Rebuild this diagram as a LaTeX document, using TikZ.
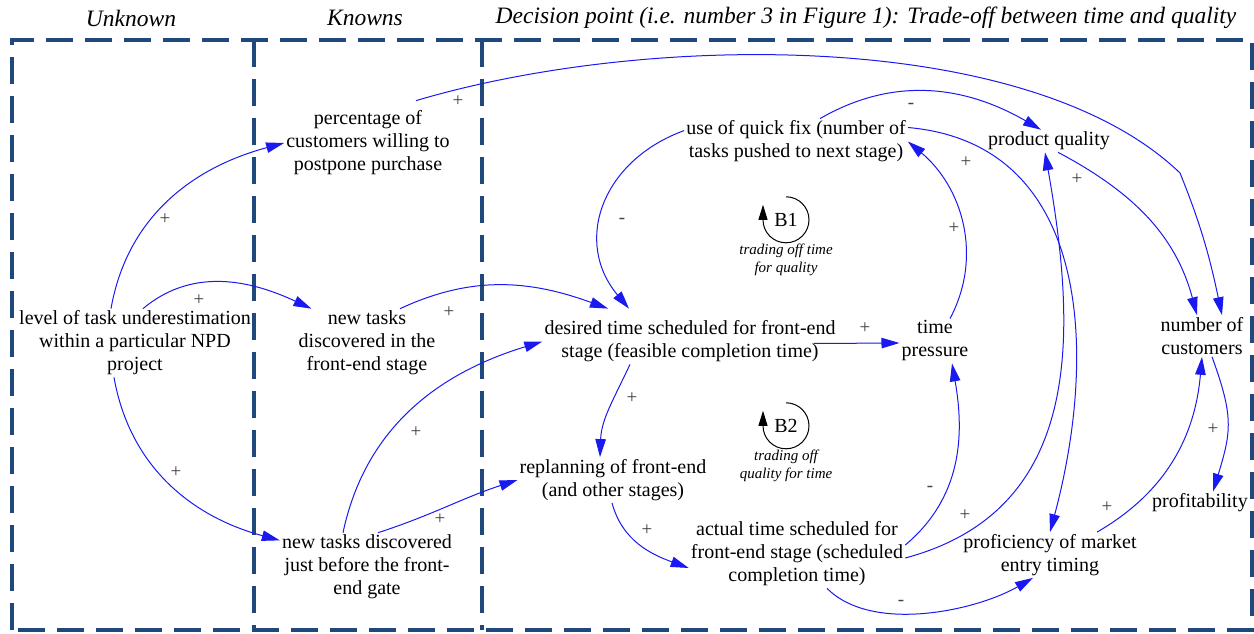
\documentclass[tikz,border=0pt]{standalone}
\usepackage{fontspec}
\setmainfont{Liberation Serif}
\usepackage{tikz}
\usetikzlibrary{arrows.meta,positioning}
\definecolor{zoneblue}{RGB}{31,73,125}
\definecolor{linkblue}{RGB}{25,25,240}
\tikzset{
  >={Triangle[length=18pt,width=10.5pt]},
  var/.style={align=center, inner sep=2pt, font=\fontsize{20}{23}\selectfont},
  sgn/.style={inner sep=0pt, text=black!75, font=\fontsize{19}{19}\selectfont},
  link/.style={->, draw=linkblue, line width=1pt},
  zone/.style={draw=zoneblue, line width=3.5pt, dash pattern=on 27pt off 12pt},
  head/.style={inner sep=0pt, font=\fontsize{23.5}{26}\selectfont\itshape},
  loopid/.style={circle, minimum size=46pt, inner sep=0pt, font=\fontsize{20}{23}\selectfont},
  looptxt/.style={align=center, inner sep=1pt, font=\fontsize{15}{17.5}\selectfont\itshape},
  looparr/.style={-{Triangle[length=15pt,width=9pt]}, line width=1pt},
}

\begin{document}
\begin{tikzpicture}[x=1pt,y=1pt]
  \useasboundingbox (0,0) rectangle (1254,633);
  \draw[zone] (12,3) rectangle (1252,593);
  \draw[zone] (254,593) -- (254,3);
  \draw[zone] (482,593) -- (482,3);

  \node[head] (hunk) at (131,615) {Unknown};
  \node[head] (hknown) at (365,615) {Knowns};
  \node[head] (hdec) at (866,615) {Decision point (i.e. number 3 in Figure 1): Trade-off between time and quality};

  \node[var] (lvl) at (135,290) {level of task underestimation\\within a particular NPD\\project};
  \node[var] (pct) at (368,490) {percentage of\\customers willing to\\postpone purchase};
  \node[var] (ntf) at (367,290) {new tasks\\discovered in the\\front-end stage};
  \node[var] (ntj) at (367,66) {new tasks discovered\\just before the front-\\end gate};
  \node[var] (des) at (690,291.5) {desired time scheduled for front-end\\stage (feasible completion time)};
  \node[var] (tp) at (935,292) {time\\pressure};
  \node[var] (qfix) at (796,491.5) {use of quick fix (number of\\tasks pushed to next stage)};
  \node[var] (pq) at (1049,492) {product quality};
  \node[var] (cust) at (1202,297) {number of\\customers};
  \node[var] (prof) at (1200,130) {profitability};
  \node[var] (repl) at (613,153) {replanning of front-end\\(and other stages)};
  \node[var] (act) at (797,79) {actual time scheduled for\\front-end stage (scheduled\\completion time)};
  \node[var] (mkt) at (1050,78) {proficiency of market\\entry timing};

  \node[loopid] (b1) at (786,413) {B1};
  \node[looptxt, below=0pt of b1] (b1txt) {trading off time\\for quality};
  \node[loopid] (b2) at (786,207) {B2};
  \node[looptxt, below=0pt of b2] (b2txt) {trading off\\quality for time};
  \draw[looparr] (b1.north) arc[start angle=90, end angle=-180, radius=23pt] -- ++(0,15);
  \draw[looparr] (b2.north) arc[start angle=90, end angle=-180, radius=23pt] -- ++(0,15);

  \draw[link] ([xshift=-24pt]lvl.north) to[out=80,in=195] (pct.west);
  \draw[link] ([xshift=8pt]lvl.north) to[out=40,in=155] ([xshift=15pt]ntf.north west);
  \draw[link] ([xshift=-21pt]lvl.south) to[out=-80,in=165] (ntj.163);
  \draw[link] ([xshift=48pt,yshift=8pt]pct.north) .. controls (647,601) and (1029,605) .. (1180,460) to[out=-68,in=102] ([xshift=20pt]cust.north);
  \draw[link] ([xshift=33pt]ntf.north) to[out=25,in=160] ([xshift=-82pt,yshift=10pt]des.north);
  \draw[link] ([xshift=-24pt]ntj.north) to[out=78,in=197] (des.west);
  \draw[link] ([xshift=11pt]ntj.north) to[out=18,in=198] (repl.west);
  \draw[link] ([yshift=-12pt]qfix.north west) to[out=200,in=130,looseness=1.2] ([xshift=-61pt,yshift=10pt]des.north);
  \draw[link] ([xshift=24pt]qfix.north) to[out=30,in=150] ([xshift=-8pt]pq.north);
  \draw[link] ([yshift=14pt]qfix.east) to[out=-5,in=75,looseness=1.1] (mkt.north);
  \draw[link] ([xshift=15pt]tp.north) to[out=62,in=-40] (qfix.east);
  \draw[link] ([yshift=9pt]act.east) to[out=40,in=-80] ([xshift=17pt]tp.south);
  \draw[link] ([yshift=-4pt]act.east) to[out=15,in=-80,looseness=1.1] ([xshift=-4pt]pq.south);
  \draw[link] ([xshift=9pt]pq.south) to[out=-28,in=105] ([xshift=-5pt]cust.north);
  \draw[link] ([xshift=-24pt,yshift=-2pt]des.east) -- ([yshift=-2pt]tp.west);
  \draw[link] ([xshift=-60pt]des.south) to[out=-115,in=88] ([xshift=-13pt]repl.north);
  \draw[link] ([xshift=-1pt]repl.south) to[out=-75,in=160] ([yshift=-14pt]act.west);
  \draw[link] ([xshift=30pt]act.south) to[out=-45,in=-150,looseness=0.8] ([xshift=-17pt]mkt.south);
  \draw[link] ([xshift=47pt]mkt.north) to[out=30,in=-95] (cust.south);
  \draw[link] ([xshift=10pt]cust.south) to[out=-70,in=73,looseness=1.2] ([xshift=13pt]prof.north);

  \node[sgn] (s1) at (165,414) {+};
  \node[sgn] (s2) at (199,333) {+};
  \node[sgn] (s3) at (176,161) {+};
  \node[sgn] (s4) at (458,532) {+};
  \node[sgn] (s5) at (449,321) {+};
  \node[sgn] (s6) at (416,201) {+};
  \node[sgn] (s7) at (440,114) {+};
  \node[sgn] (s8) at (622,412) {-};
  \node[sgn] (s9) at (911,527) {-};
  \node[sgn] (s10) at (966,471) {+};
  \node[sgn] (s11) at (954,405) {+};
  \node[sgn] (s12) at (1077,454) {+};
  \node[sgn] (s13) at (865,305) {+};
  \node[sgn] (s14) at (632,235) {+};
  \node[sgn] (s15) at (647,103) {+};
  \node[sgn] (s16) at (930,144) {-};
  \node[sgn] (s17) at (965,118) {+};
  \node[sgn] (s18) at (901,30) {-};
  \node[sgn] (s19) at (1107,126) {+};
  \node[sgn] (s20) at (1213,204) {+};
\end{tikzpicture}
\end{document}
